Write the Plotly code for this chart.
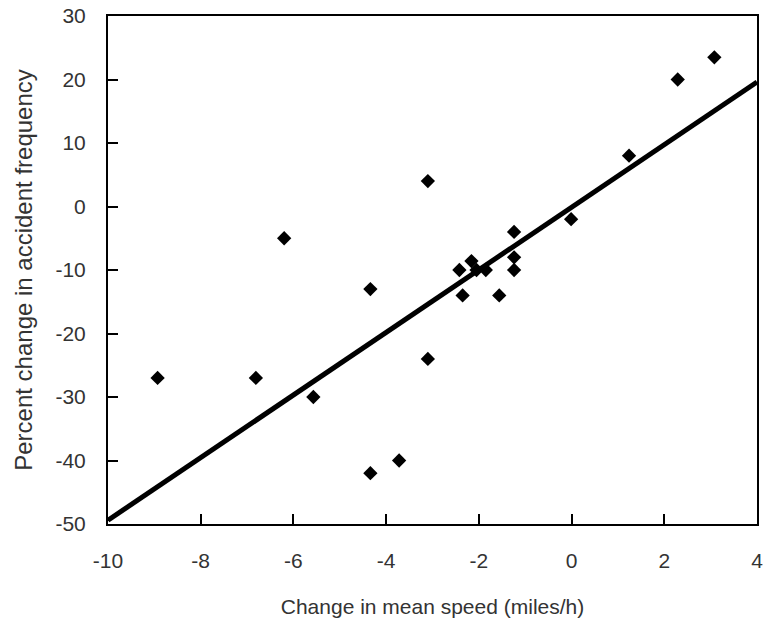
import plotly.graph_objects as go

speed_change = [-8.93, -6.81, -6.2, -5.57, -4.34, -4.34, -3.72, -3.1, -3.1,
                -2.42, -2.35, -2.16, -2.05, -1.85, -1.56, -1.24, -1.24, -1.24,
                -0.01, 1.24, 2.29, 3.08]
accident_change = [-27, -27, -5, -30, -13, -42, -40, 4, -24,
                   -10, -14, -8.6, -10, -10, -14, -4, -8, -10,
                   -2, 8, 20, 23.5]

fit_x = [-10, 4]
fit_y = [-49.4, 19.6]

x_ticks = [-10, -8, -6, -4, -2, 0, 2, 4]
x_labels = ["-10", "-8", "-6", "-4", "-2", "0", "2", "4"]
y_ticks = [-50, -40, -30, -20, -10, 0, 10, 20, 30]
y_labels = ["-50", "-40", "-30", "-20", "-10", "0", "10", "20", "30"]

fig = go.Figure()
fig.add_trace(go.Scatter(x=fit_x, y=fit_y, mode="lines",
                         line=dict(color="black", width=5), showlegend=False))
fig.add_trace(go.Scatter(x=speed_change, y=accident_change, mode="markers",
                         marker=dict(symbol="diamond", size=11, color="black"),
                         showlegend=False))

font = dict(family="Liberation Sans, Arial, sans-serif", size=21, color="#333")
yfont = dict(family="Liberation Sans, Arial, sans-serif", size=24, color="#333")
fig.update_layout(
    width=766, height=623,
    margin=dict(l=108, r=9, t=16, b=99),
    paper_bgcolor="white", plot_bgcolor="white",
    font=font,
    xaxis=dict(range=[-10, 4], tickvals=x_ticks, ticktext=x_labels,
               ticks="inside", ticklen=10, automargin=False,
               tickwidth=2, tickcolor="black", showline=True, linewidth=2,
               linecolor="black", mirror=True, showgrid=False, zeroline=False,
               tickfont=font, ticklabelstandoff=17, ticklabeloverflow="allow",
               title=dict(text="Change in mean speed (miles/h)", font=font, standoff=28)),
    yaxis=dict(range=[-50, 30], tickvals=y_ticks, ticktext=y_labels,
               ticks="inside", ticklen=10, automargin=False,
               tickwidth=2, tickcolor="black", showline=True, linewidth=2,
               linecolor="black", mirror=True, showgrid=False, zeroline=False,
               tickfont=font, ticklabelstandoff=16, ticklabeloverflow="allow",
               title=dict(text="Percent change in accident frequency", font=yfont, standoff=16)),
)
fig.write_html("out.html", config={"displayModeBar": False},
               post_script="document.body.style.margin='0';document.body.style.overflow='hidden';")
